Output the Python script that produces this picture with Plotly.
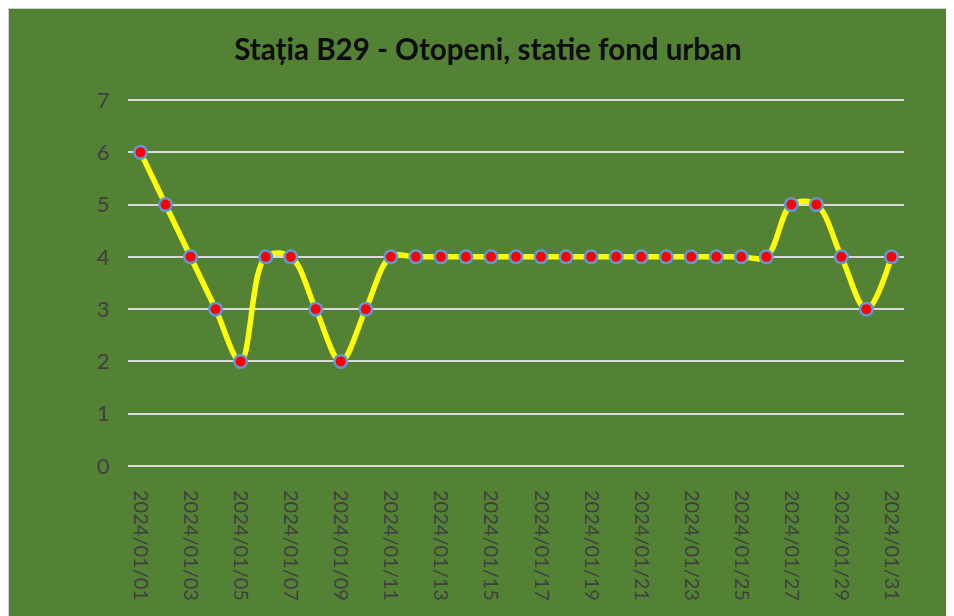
import plotly.graph_objects as go

dates = [f"2024/01/{d:02d}" for d in range(1, 32)]
values = [6, 5, 4, 3, 2, 4, 4, 3, 2, 3, 4,
          4, 4, 4, 4, 4, 4, 4, 4, 4, 4, 4, 4, 4, 4, 4,
          5, 5, 4, 3, 4]
shown_ticks = dates[::2]
y_ticks = [0, 1, 2, 3, 4, 5, 6, 7]
title_text = "Stația B29 - Otopeni, statie fond urban"

# page has an 8px body margin; figure fills the rest of the 954x616 window
W, H = 946, 608
L, R, T, B = 120, 50, 90, 148
pw, ph = W - L - R, H - T - B

def px_x(p):
    return (p - L) / pw

def px_y(p):
    return (H - B - p) / ph

GREEN = "#548235"
TICK = "#404040"

fig = go.Figure()
fig.add_trace(go.Scatter(
    x=dates, y=values, mode="lines+markers",
    line=dict(color="#FFFF00", width=5.5, shape="spline", smoothing=1.0),
    marker=dict(color="#FF0000", size=12.5, line=dict(color="#5B9BD5", width=2.5)),
    cliponaxis=False, hoverinfo="x+y",
))

fig.add_shape(type="rect", xref="paper", yref="paper", layer="below",
              x0=px_x(0), x1=px_x(W + 20), y0=px_y(H + 20), y1=px_y(0),
              fillcolor=GREEN, line=dict(color="#D0D0D0", width=2))

fig.update_layout(
    width=W, height=H,
    margin=dict(l=L, r=R, t=T, b=B, pad=0, autoexpand=False),
    paper_bgcolor=GREEN, plot_bgcolor=GREEN,
    showlegend=False,
    font=dict(family="Lato", color=TICK),
    title=dict(text=f"<b>{title_text}</b>", x=480 / W, xanchor="center",
               y=1 - 42 / H, yanchor="middle",
               font=dict(family="Lato", size=29.5, color="#0D0D0D")),
)
fig.update_xaxes(type="category", categoryorder="array", categoryarray=dates,
                 range=[-0.5, 30.5], tickmode="array", tickvals=shown_ticks,
                 ticktext=shown_ticks, tickangle=90, showgrid=False,
                 zeroline=False, showline=False, ticks="outside", ticklen=17,
                 automargin=False,
                 tickcolor="rgba(0,0,0,0)", tickfont=dict(size=20, color=TICK))
fig.update_yaxes(range=[-0.04, 7.04], tickvals=y_ticks, showgrid=True,
                 gridcolor="#D9D9D9", gridwidth=2, zeroline=False,
                 showline=False, ticks="outside", ticklen=13, automargin=False,
                 tickcolor="rgba(0,0,0,0)", tickfont=dict(size=22, color=TICK))

fig.write_html("out.html")
